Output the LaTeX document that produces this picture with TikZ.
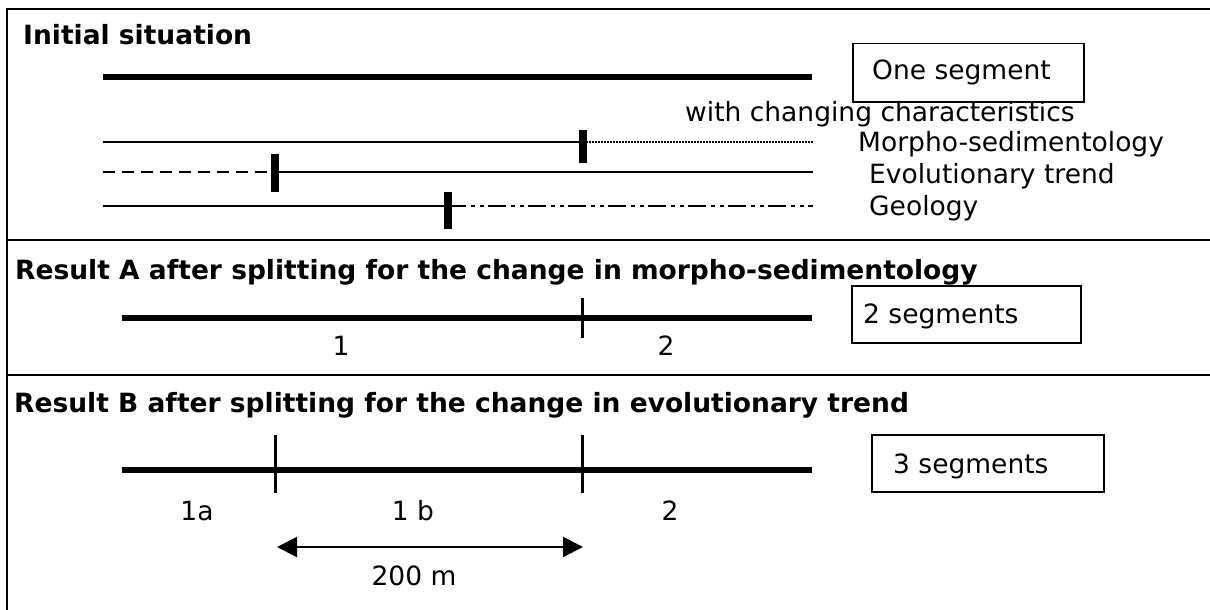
\documentclass[tikz,border=0pt]{standalone}
\usepackage{fontspec}
\setmainfont{DejaVu Sans}
\usetikzlibrary{arrows.meta}
\begin{document}
\begin{tikzpicture}[x=1pt,y=-1pt,
  txt/.style={font=\fontsize{26.5}{30}\selectfont, inner sep=0pt, anchor=base west},
  ctxt/.style={font=\fontsize{26.5}{30}\selectfont, inner sep=0pt, anchor=base},
  hd/.style={font=\fontsize{26.5}{30}\selectfont\bfseries, inner sep=0pt, anchor=base west},
  frameline/.style={line width=2.5pt},
  sepline/.style={line width=2pt},
  seg/.style={line width=6pt},
  thinline/.style={line width=2pt},
  dotline/.style={line width=1.3pt, dash pattern=on 1.5pt off 1.5pt},
  dashline/.style={line width=2.5pt, dash pattern=on 12pt off 7pt},
  dddline/.style={line width=2pt, dash pattern=on 18pt off 5pt on 4pt off 5pt on 4pt off 4pt},
  marker/.style={line width=8pt},
  tickline/.style={line width=3pt},
  boxed/.style={draw, line width=1.5pt, inner sep=0pt, anchor=north west},
  dimarrow/.style={line width=2pt, {Triangle[length=20pt,width=20pt]}-{Triangle[length=20pt,width=20pt]}},
]
\useasboundingbox (0,0) rectangle (1210,610);
\fill[white] (0,0) rectangle (1210,610);

% frame and separators
\coordinate (TL) at (7,9);
\coordinate (TR) at (1210,9);
\coordinate (BL) at (7,610);
\draw[frameline] (TR) -- (TL) -- (BL);
\coordinate (s1L) at (7,240);
\coordinate (s1R) at (1210,240);
\coordinate (s2L) at (7,375);
\coordinate (s2R) at (1210,375);
\draw[sepline] (s1L) -- (s1R);
\draw[sepline] (s2L) -- (s2R);

% ---------- Initial situation ----------
\node[hd] (h1) at (23,45) {Initial situation};
\coordinate (t0L) at (103,77);
\coordinate (t0R) at (812,77);
\draw[seg] (t0L) -- (t0R);
\node[boxed, minimum width=231pt, minimum height=58pt] (box1) at (852,43) {};
\node[txt] (one) at (872,80) {One segment};
\node[txt] (with) at (685,121) {with changing characteristics};

% line 1: morpho-sedimentology
\coordinate (m1L) at (103,142);
\coordinate (m1M) at (583,142);
\coordinate (m1R) at (813,142);
\coordinate (m1T) at (583,130);
\coordinate (m1B) at (583,163);
\draw[thinline] (m1L) -- (m1M);
\draw[dotline] (m1M) -- (m1R);
\draw[marker] (m1T) -- (m1B);
\node[txt] (morpho) at (858,151) {Morpho-sedimentology};

% line 2: evolutionary trend
\coordinate (m2L) at (103,172);
\coordinate (m2M) at (275,172);
\coordinate (m2R) at (813,172);
\coordinate (m2T) at (275,154);
\coordinate (m2B) at (275,192);
\draw[dashline] (m2L) -- (m2M);
\draw[thinline] (m2M) -- (m2R);
\draw[marker] (m2T) -- (m2B);
\node[txt] (evol) at (869,183) {Evolutionary trend};

% line 3: geology
\coordinate (m3L) at (103,206);
\coordinate (m3M) at (448,206);
\coordinate (m3R) at (813,206);
\coordinate (m3T) at (448,192);
\coordinate (m3B) at (448,229);
\draw[thinline] (m3L) -- (m3M);
\draw[dddline] (m3M) -- (m3R);
\draw[marker] (m3T) -- (m3B);
\node[txt] (geo) at (869,215) {Geology};

% ---------- Result A ----------
\node[hd] (h2) at (15,279) {Result A after splitting for the change in morpho-sedimentology};
\coordinate (aL) at (122,318);
\coordinate (aR) at (812,318);
\coordinate (aT) at (582,298);
\coordinate (aB) at (582,338);
\draw[seg] (aL) -- (aR);
\draw[tickline] (aT) -- (aB);
\node[boxed, minimum width=229pt, minimum height=57pt] (box2) at (851,285) {};
\node[txt] (two) at (863,323) {2 segments};
\node[ctxt] (a1) at (341,355) {1};
\node[ctxt] (a2) at (666,355) {2};

% ---------- Result B ----------
\node[hd] (h3) at (14,412) {Result B after splitting for the change in evolutionary trend};
\coordinate (bL) at (122,470);
\coordinate (bR) at (812,470);
\coordinate (b1T) at (275,435);
\coordinate (b1B) at (275,493);
\coordinate (b2T) at (582,435);
\coordinate (b2B) at (582,493);
\draw[seg] (bL) -- (bR);
\draw[tickline] (b1T) -- (b1B);
\draw[tickline] (b2T) -- (b2B);
\node[boxed, minimum width=232pt, minimum height=57pt] (box3) at (871,434) {};
\node[txt] (three) at (893,473) {3 segments};
\node[ctxt] (b1a) at (197,520) {1a};
\node[ctxt] (b1b) at (413,520) {1 b};
\node[ctxt] (b2) at (670,520) {2};

% 200 m dimension
\coordinate (dL) at (277,547);
\coordinate (dR) at (583,547);
\draw[dimarrow] (dL) -- (dR);
\node[ctxt] (dist) at (414,585) {200 m};
\end{tikzpicture}
\end{document}
